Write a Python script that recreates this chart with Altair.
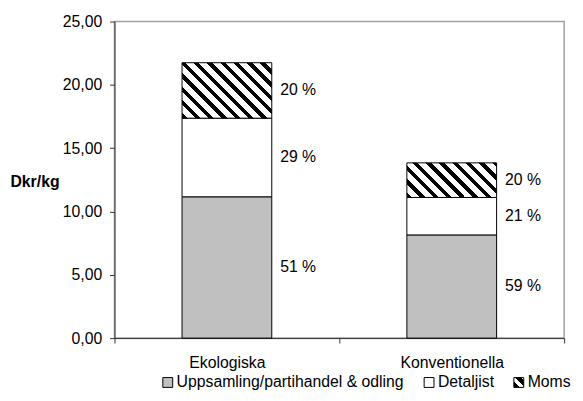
import altair as alt
import pandas as pd

cats = ["Ekologiska", "Konventionella"]
parts = ["Uppsamling/partihandel & odling", "Detaljist", "Moms"]
eko_vals = [11.16, 6.21, 4.38]
konv_vals = [8.15, 2.96, 2.73]
eko_pct = [51, 29, 20]
konv_pct = [59, 21, 20]
y_ticks = [0, 5, 10, 15, 20, 25]

PLOT_W, PLOT_H, YMAX = 456, 321, 25
BAR_W = 91


def stripe_expr(w, h, period=13.5, black=0.4):
    # linear gradient giving 45deg "\" stripes inside a w x h box
    d = w * w + h * h
    x2 = w * (w + h) / d
    y2 = 1 - h * (w + h) / d
    p = period / (w + h)
    stops = []
    k = 0
    while k * p < 1:
        s = k * p
        b = min(s + black * p, 1)
        e = min(s + p, 1)
        stops += [(s, "#000"), (b, "#000"), (b, "#fff"), (e, "#fff")]
        k += 1
    st = ",".join("{offset:%.4f,color:'%s'}" % (o, c) for o, c in stops)
    return "{gradient:'linear',x1:0,y1:1,x2:%.4f,y2:%.4f,stops:[%s]}" % (x2, y2, st)


legend_grad = ("{gradient:'linear',x1:0,y1:1,x2:1,y2:0,stops:["
               "{offset:0,color:'#000'},{offset:0.3,color:'#000'},{offset:0.3,color:'#fff'},"
               "{offset:0.55,color:'#fff'},{offset:0.55,color:'#000'},{offset:0.85,color:'#000'},"
               "{offset:0.85,color:'#fff'},{offset:1,color:'#fff'}]}")

rows = []
for cat, vals, pcts, mk in [(cats[0], eko_vals, eko_pct, "Moms_e"),
                            (cats[1], konv_vals, konv_pct, "Moms_k")]:
    for i, (part, v, pc) in enumerate(zip(parts, vals, pcts)):
        key = mk if part == "Moms" else part
        rows.append({"cat": cat, "part": part, "key": key, "value": v,
                     "order": i, "label": f"{pc} %"})
df = pd.DataFrame(rows)

px_per_unit = PLOT_H / YMAX
eko_h = eko_vals[2] * px_per_unit
konv_h = konv_vals[2] * px_per_unit

domain = parts + ["Moms_e", "Moms_k"]
rng = ["#C0C0C0", "#FFFFFF", alt.ExprRef(legend_grad),
       alt.ExprRef(stripe_expr(BAR_W, eko_h)), alt.ExprRef(stripe_expr(BAR_W, konv_h))]

FONT = "Liberation Sans"

base = alt.Chart(df).transform_stack(
    stack="value", groupby=["cat"], as_=["y0", "y1"],
    sort=[alt.SortField("order", order="ascending")]
).transform_calculate(mid="(datum.y0 + datum.y1) / 2")

x_enc = alt.X("cat:N", sort=cats,
              scale=alt.Scale(paddingInner=0, paddingOuter=0),
              axis=alt.Axis(title=None, labelAngle=0, tickBand="extent",
                            tickSize=5, labelPadding=12, labelFontSize=16,
                            labelColor="black", domainColor="#333333",
                            tickColor="#333333", labelFont=FONT))

bars = base.mark_bar(size=BAR_W, stroke="black", strokeWidth=1).encode(
    x=x_enc,
    y=alt.Y("y0:Q", scale=alt.Scale(domain=[0, YMAX], nice=False),
            axis=alt.Axis(title="Dkr/kg", values=y_ticks, grid=False,
                          labelExpr="replace(format(datum.value, '.2f'), '.', ',')",
                          tickSize=5, labelPadding=8, labelFontSize=16,
                          labelColor="black", labelFont=FONT,
                          domainColor="#333333", tickColor="#333333",
                          titleAngle=0, titleX=-106, titleY=162, titleAlign="left",
                          titleBaseline="middle", titleFontSize=16,
                          titleFontWeight="bold", titleColor="black", titleFont=FONT)),
    y2="y1:Q",
    fill=alt.Fill("key:N", scale=alt.Scale(domain=domain, range=rng),
                  legend=alt.Legend(title=None, values=parts, orient="none",
                                    direction="horizontal", legendX=46, legendY=358,
                                    symbolType="square", symbolSize=100,
                                    symbolStrokeColor="black", symbolStrokeWidth=1,
                                    labelFontSize=16, labelFont=FONT, labelColor="black",
                                    labelLimit=0, labelOffset=1, columnPadding=17)),
    order=alt.Order("order:Q"),
)

texts = base.mark_text(align="left", baseline="middle", dx=54, fontSize=16,
                       font=FONT, color="black").encode(
    x=alt.X("cat:N", sort=cats),
    y="mid:Q",
    text="label:N",
)

chart = alt.layer(bars, texts).properties(
    width=PLOT_W, height=PLOT_H,
    autosize=alt.AutoSizeParams(type="none"),
    padding={"left": 108, "top": 11, "right": 11, "bottom": 60},
).configure(font=FONT).configure_view(stroke="#A0A0A0", strokeWidth=1.5)

chart.save("out.html", embed_options={"renderer": "svg", "actions": False})
